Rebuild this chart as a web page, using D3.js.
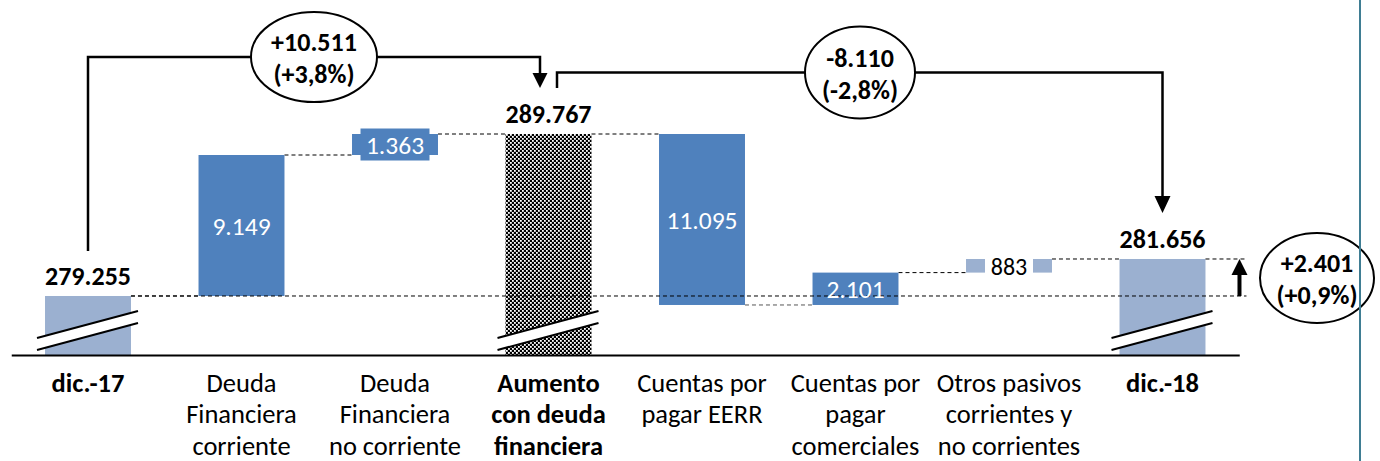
<!DOCTYPE html>
<html>
<head>
<meta charset="utf-8">
<script src="https://cdn.jsdelivr.net/npm/d3@7"></script>
<style>
  html, body { margin: 0; padding: 0; background: #fff; }
  svg { display: block; font-family: Carlito, Lato, "Open Sans", sans-serif; }
</style>
</head>
<body>
<script>
// ---------- data ----------
const categories = [
  ["dic.-17"],
  ["Deuda", "Financiera", "corriente"],
  ["Deuda", "Financiera", "no corriente"],
  ["Aumento", "con deuda", "financiera"],
  ["Cuentas por", "pagar EERR"],
  ["Cuentas por", "pagar", "comerciales"],
  ["Otros pasivos", "corrientes y", "no corrientes"],
  ["dic.-18"]
];
const kinds  = ["total", "delta", "delta", "total", "delta", "delta", "delta", "total"];
const values = [279255, 9149, 1363, 289767, -11095, 2101, 883, 281656];
const boldCategories = [true, false, false, true, false, false, false, true];
const changeLabels = [
  ["+10.511", "(+3,8%)"],
  ["-8.110", "(-2,8%)"],
  ["+2.401", "(+0,9%)"]
];
const axisBase = 275426;

// ---------- setup ----------
const W = 1380, H = 461;
const blue = "#4F81BD", light = "#9BB0D0";
const svg = d3.select("body").append("svg").attr("width", W).attr("height", H);

const defs = svg.append("defs");
const pat = defs.append("pattern").attr("id", "check")
  .attr("patternUnits", "userSpaceOnUse").attr("width", 4).attr("height", 4);
pat.append("rect").attr("width", 4).attr("height", 4).attr("fill", "#000");
pat.append("rect").attr("x", 0).attr("y", 0).attr("width", 1.8).attr("height", 1.8).attr("fill", "#fff");
pat.append("rect").attr("x", 2).attr("y", 2).attr("width", 1.8).attr("height", 1.8).attr("fill", "#fff");

const x = d3.scaleBand().domain(d3.range(categories.length))
  .range([11.25, 1239.25]).paddingInner(0.44).paddingOuter(0.22);
const y = d3.scaleLinear().domain([axisBase, 289767]).range([355, 134]);
const bw = x.bandwidth();
const cx = i => x(i) + bw / 2;

const fmt = d3.formatLocale({decimal: ",", thousands: ".", grouping: [3], currency: ["", ""]}).format(",");

// waterfall geometry
let cum = 0;
const bars = values.map((v, i) => {
  let lo, hi, start, end;
  if (kinds[i] === "total") { lo = axisBase; hi = v; start = v; end = v; cum = v; }
  else { start = cum; end = cum + v; cum = end; lo = Math.min(start, end); hi = Math.max(start, end); }
  return {i, v, lo, hi, start, end, kind: kinds[i]};
});
const fillOf = i => i === 3 ? "url(#check)" : (i === 0 || i === 6 || i === 7) ? light : blue;

// ---------- connectors ----------
const g = svg.append("g");
for (let i = 0; i < bars.length - 1; i++) {
  g.append("line")
    .attr("x1", x(i) + bw).attr("x2", x(i + 1))
    .attr("y1", y(bars[i].end)).attr("y2", y(bars[i].end))
    .attr("stroke", i === 4 ? "#555" : "#000").attr("stroke-width", 1).attr("stroke-dasharray", "4,3");
}

// ---------- bars ----------
g.selectAll("rect.bar").data(bars).join("rect")
  .attr("class", "bar")
  .attr("x", d => x(d.i)).attr("width", bw)
  .attr("y", d => y(d.hi)).attr("height", d => y(d.lo) - y(d.hi))
  .attr("fill", d => fillOf(d.i));

// reference dashed line at the starting level, and at the end level
const lastX = x(7) + bw;
g.append("line").attr("x1", x(0) + bw).attr("x2", lastX + 41)
  .attr("y1", y(values[0])).attr("y2", y(values[0]))
  .attr("stroke", "#000").attr("stroke-width", 1).attr("stroke-dasharray", "4,3");
g.append("line").attr("x1", lastX).attr("x2", lastX + 41)
  .attr("y1", y(values[7])).attr("y2", y(values[7]))
  .attr("stroke", "#000").attr("stroke-width", 1).attr("stroke-dasharray", "4,3");

// break marks on total bars
bars.filter(d => d.kind === "total").forEach(d => {
  const c = cx(d.i), b = y(axisBase);
  const xl = c - 51, xr = c + 50;
  g.append("polygon")
    .attr("points", [[xl, b - 17], [xr, b - 44], [xr, b - 32], [xl, b - 5]].map(p => p.join(",")).join(" "))
    .attr("fill", "#fff");
  g.append("line").attr("x1", xl).attr("y1", b - 17).attr("x2", xr).attr("y2", b - 44)
    .attr("stroke", "#000").attr("stroke-width", 2);
  g.append("line").attr("x1", xl).attr("y1", b - 5).attr("x2", xr).attr("y2", b - 32)
    .attr("stroke", "#000").attr("stroke-width", 2);
});

// ---------- axis ----------
const axis = svg.append("g").attr("transform", `translate(0,${y(axisBase)})`)
  .call(d3.axisBottom(x).tickSize(0).tickSizeOuter(0).tickFormat(""));
axis.select(".domain").attr("stroke", "#000").attr("stroke-width", 2);

const catFont = 26.5;
categories.forEach((lines, i) => {
  const t = svg.append("text")
    .attr("x", cx(i)).attr("y", 391.5)
    .attr("text-anchor", "middle")
    .attr("font-size", catFont)
    .attr("font-weight", boldCategories[i] ? "bold" : "normal")
    .attr("fill", "#000");
  lines.forEach((ln, k) => t.append("tspan").attr("x", cx(i)).attr("y", 391.5 + k * 31.5).text(ln));
});

// ---------- value labels ----------
const totFont = 26, valFont = 25.5;
bars.forEach(d => {
  const c = cx(d.i);
  if (d.kind === "total") {
    svg.append("text").attr("x", c).attr("y", y(d.v) - 20)
      .attr("text-anchor", "middle").attr("dominant-baseline", "central")
      .attr("font-size", totFont).attr("font-weight", "bold").attr("fill", "#000")
      .text(fmt(d.v));
  } else {
    const my = (y(d.lo) + y(d.hi)) / 2;
    const txt = fmt(Math.abs(d.v));
    if (d.i === 2) {
      svg.append("rect").attr("x", c - 34.5).attr("y", my - 16).attr("width", 69).attr("height", 32).attr("fill", blue);
    }
    if (d.i === 6) {
      svg.append("rect").attr("x", c - 24).attr("y", my - 14).attr("width", 48).attr("height", 28).attr("fill", "#fff");
    }
    svg.append("text").attr("x", c).attr("y", my + 1)
      .attr("text-anchor", "middle").attr("dominant-baseline", "central")
      .attr("font-size", d.i === 6 ? 24 : valFont).attr("fill", d.i === 6 ? "#000" : "#fff")
      .text(txt);
  }
});

// ---------- change annotations ----------
const ann = svg.append("g");
const lw = 2.5;
// bracket 1: dic.-17 -> Aumento
const b1x0 = cx(0), b1x1 = cx(3) - 8.5, b1y = 57;
ann.append("path").attr("d", `M${b1x0},251 V${b1y} H${b1x1} V75`)
  .attr("fill", "none").attr("stroke", "#000").attr("stroke-width", lw);
ann.append("polygon").attr("points", `${b1x1 - 7.5},73 ${b1x1 + 7.5},73 ${b1x1},88`).attr("fill", "#000");
// bracket 2: Aumento -> dic.-18
const b2x0 = cx(3) + 8.5, b2x1 = cx(7), b2y = 72.5;
ann.append("path").attr("d", `M${b2x0},88 V${b2y} H${b2x1} V198`)
  .attr("fill", "none").attr("stroke", "#000").attr("stroke-width", lw);
ann.append("polygon").attr("points", `${b2x1 - 8},196 ${b2x1 + 8},196 ${b2x1},213`).attr("fill", "#000");
// up arrow dic.-17 -> dic.-18
const ax = lastX + 34;
ann.append("line").attr("x1", ax).attr("x2", ax).attr("y1", y(values[0])).attr("y2", 272)
  .attr("stroke", "#000").attr("stroke-width", 4);
ann.append("polygon").attr("points", `${ax - 8},275 ${ax + 8},275 ${ax},259`).attr("fill", "#000");

// right-side frame line
svg.append("line").attr("x1", 1360).attr("x2", 1360).attr("y1", 0).attr("y2", H)
  .attr("stroke", "#3F7D93").attr("stroke-width", 2);

const ellipses = [
  {cx: 314, cy: 57, rx: 63, ry: 45},
  {cx: 860, cy: 72.5, rx: 55, ry: 46},
  {cx: 1317, cy: 278, rx: 57, ry: 45}
];
ellipses.forEach((e, k) => {
  ann.append("ellipse").attr("cx", e.cx).attr("cy", e.cy).attr("rx", e.rx).attr("ry", e.ry)
    .attr("fill", "#fff").attr("stroke", "#000").attr("stroke-width", 2);
  changeLabels[k].forEach((s, j) => {
    ann.append("text").attr("x", e.cx).attr("y", e.cy - 15 + j * 32)
      .attr("text-anchor", "middle").attr("dominant-baseline", "central")
      .attr("font-size", totFont).attr("font-weight", "bold").attr("fill", "#000").text(s);
  });
});
</script>
</body>
</html>
